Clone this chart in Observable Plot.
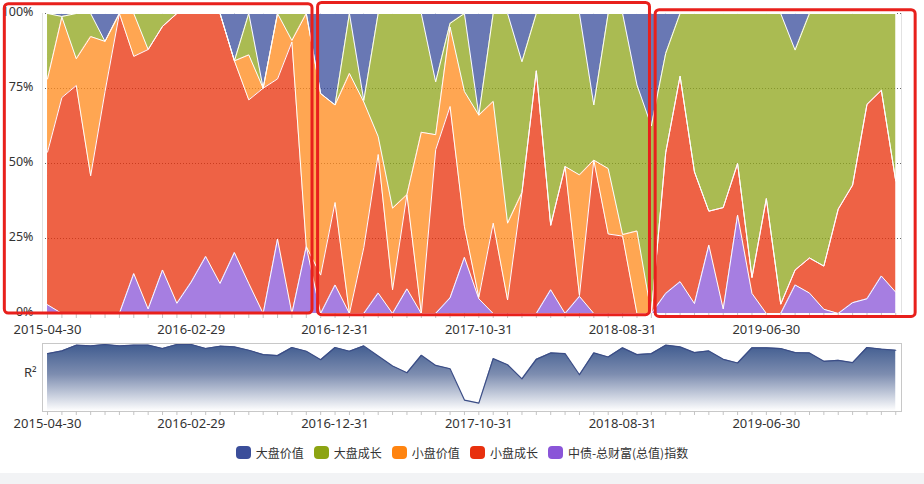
<!DOCTYPE html>
<html>
<head>
<meta charset="utf-8">
<script src="https://cdn.jsdelivr.net/npm/d3@7"></script>
<script src="https://cdn.jsdelivr.net/npm/@observablehq/plot@0.6"></script>
<style>
  body { margin: 0; background: #fff; }
  #wrap { position: relative; width: 924px; height: 484px; overflow: hidden; background: #fff; }
  #main { position: absolute; left: 0; top: 0; }
  #nav { position: absolute; left: 0; top: 338px; }
  #r2label { position: absolute; left: 24px; top: 363px; font: 13px "Noto Sans", sans-serif; color: #333; }
  #legend { position: absolute; left: 0; top: 444px; width: 924px; display: flex; justify-content: center; gap: 10px;
            font: 12px "Noto Sans CJK SC", sans-serif; color: #333; }
  .item { display: flex; align-items: center; gap: 5px; }
  .sw { width: 15px; height: 13px; border-radius: 4px; }
  #band { position: absolute; left: 0; top: 473px; width: 924px; height: 11px; background: #f2f3f5; }
</style>
</head>
<body>
<div id="wrap">
  <div id="main"></div>
  <div id="nav"></div>
  <div id="r2label">R²</div>
  <div id="legend"></div>
  <div id="band"></div>
</div>
<script>
// ---- Data ----
const dates = [
  "2015-04-30","2015-05-31","2015-06-30","2015-07-31","2015-08-31","2015-09-30","2015-10-31","2015-11-30","2015-12-31",
  "2016-01-31","2016-02-29","2016-03-31","2016-04-30","2016-05-31","2016-06-30","2016-07-31","2016-08-31","2016-09-30",
  "2016-10-31","2016-11-30","2016-12-31","2017-01-31","2017-02-28","2017-03-31","2017-04-30","2017-05-31","2017-06-30",
  "2017-07-31","2017-08-31","2017-09-30","2017-10-31","2017-11-30","2017-12-31","2018-01-31","2018-02-28","2018-03-31",
  "2018-04-30","2018-05-31","2018-06-30","2018-07-31","2018-08-31","2018-09-30","2018-10-31","2018-11-30","2018-12-31",
  "2019-01-31","2019-02-28","2019-03-31","2019-04-30","2019-05-31","2019-06-30","2019-07-31","2019-08-31","2019-09-30",
  "2019-10-31","2019-11-30","2019-12-31","2020-01-31","2020-02-29","2020-03-31"
];

const seriesNames = ["大盘价值", "大盘成长", "小盘价值", "小盘成长", "中债-总财富(总值)指数"];
const seriesColors = ["#3a4e9c", "#8fa61c", "#ff8a1c", "#e8300a", "#8a55d8"];
const legendColors = ["#3b4e9a", "#8ca412", "#ff8410", "#e8300e", "#8a55d8"];
// bottom -> top stacking order
const stackOrder = ["中债-总财富(总值)指数", "小盘成长", "小盘价值", "大盘成长", "大盘价值"];

// weights (%) per month
const largeValue = [0,1,0,0,9.3,0,0,0,0,0, 0,0,0,15.8,0,24.9,0,0,0,26.7,
  30.5,0,29,0,0,0,0,22.8,3.3,0, 33.9,0,0,16.1,0,0,0,0,30.5,0,
  0,23.8,37.5,13.3,0,0,0,0,0,0, 0,0,12.2,0,0,0,0,0,0,0];
const largeGrowth = [21.8,0.2,15.1,7.7,0,0,0,12,4.3,0, 0,0,0,0,13.8,0,0,9,0,0,
  0,20,0.5,41,64.9,60.4,39.6,17.6,1.2,26, 0,29.3,69.9,43.6,19.1,70.6,51,53.8,18.4,51.7,
  73.7,48.7,62.5,33.1,20.9,52.8,65.9,64.7,50,88, 61.7,96.9,73.3,81.5,84.2,65.2,57.2,30.3,25.6,55.8];
const smallValue = [24.4,26.8,8.9,46.4,16.7,0,14.3,0,0,0, 0,0,0,0,15,0,21.8,0.5,77.7,60.5,
  32.5,80,48.5,6,27.2,0,60.4,5,26.5,45.1, 60.7,40.6,25.6,0,0,0,0,40.2,0,21.8,
  0.5,27.5,0,0,0,0,0,0,0,0, 0,0,0,0,0,0,0,0,0,0];
const smallGrowth = [50.9,72,76,45.9,74,100,72.4,86.5,81.2,96.6, 89.5,81,90,63.9,61.2,75.1,53.4,90.5,0,12.8,
  27.5,0,22,46.2,7.9,31.4,0,54.6,63.8,10.2, 0.5,30.1,4.5,40.3,80.9,21.5,49,0.3,51.1,26.5,
  25.8,0,0,46.9,68.5,43.9,11.3,33.8,17.2,5.3, 38.3,3.1,5,11.7,14.4,34.8,39.2,64.8,61.9,37.1];
const bond = [2.9,0,0,0,0,0,13.3,1.5,14.5,3.4, 10.5,19,10,20.3,10,0,24.8,0,22.3,0,
  9.5,0,0,6.8,0,8.2,0,0,5.2,18.7, 4.9,0,0,0,0,7.9,0,5.7,0,0,
  0,0,0,6.7,10.6,3.3,22.8,1.5,32.8,6.7, 0,0,9.5,6.8,1.4,0,3.6,4.9,12.5,7.1];

// R² of the style regression (relative height in the navigator)
const r2 = [0.851,0.891,0.975,0.965,0.985,0.965,0.975,0.975,0.926,0.985,
  0.985,0.926,0.960,0.950,0.901,0.837,0.822,0.941,0.886,0.762,
  0.941,0.886,0.965,0.817,0.668,0.569,0.827,0.678,0.629,0.168,
  0.124,0.777,0.688,0.480,0.767,0.861,0.851,0.540,0.861,0.802,
  0.936,0.837,0.851,0.975,0.950,0.866,0.891,0.767,0.713,0.936,
  0.936,0.926,0.866,0.861,0.738,0.752,0.718,0.941,0.916,0.901];

const yTicks = [0, 0.25, 0.5, 0.75, 1];
const labelEvery = 10;
// highlighted periods (month index ranges)
const periods = [[0, 18], [19, 41], [42, 59]];

// ---- Build table ----
const seriesValues = [largeValue, largeGrowth, smallValue, smallGrowth, bond];
const table = [];
seriesNames.forEach((name, s) => {
  seriesValues[s].forEach((v, i) => table.push({i, date: dates[i], series: name, value: v}));
});
const idx = dates.map((d, i) => i);
const xDomain = [-0.35, 59.4];
const xFmt = i => (i % labelEvery === 0 ? dates[i] : "");
const font = "'Noto Sans','Noto Sans CJK SC',sans-serif";

const boxInsets = [
  {insetLeft: -42.7, insetRight: -6.2, insetTop: -9.3, insetBottom: 0},
  {insetLeft: -2.6, insetRight: -13, insetTop: -10.6, insetBottom: -1.7},
  {insetLeft: 4.3, insetRight: -19.9, insetTop: -3.3, insetBottom: -3.4}
];

const main = Plot.plot({
  width: 924, height: 338,
  marginLeft: 42, marginRight: 23, marginTop: 13, marginBottom: 25,
  x: {domain: xDomain, axis: null},
  y: {domain: [0, 1], axis: null},
  color: {domain: seriesNames, range: seriesColors},
  style: {fontSize: "13px", fontFamily: font, color: "#333", background: "transparent", overflow: "visible"},
  marks: [
    Plot.gridY(yTicks.slice(1), {stroke: "#666", strokeOpacity: 1, strokeDasharray: "1,2"}),
    Plot.ruleX(xDomain, {stroke: "#e2e2e2"}),
    Plot.areaY(table, {x: "i", y: "value", z: "series", fill: "series", order: stackOrder, offset: "normalize", fillOpacity: 0.76}),
    Plot.lineY(table, Plot.stackY2({x: "i", y: "value", z: "series", order: stackOrder, offset: "normalize", stroke: "white", strokeWidth: 1})),
    Plot.axisX(idx, {tickFormat: xFmt, tickSize: 5, tickPadding: 6, stroke: "#c4c4c4", fill: "#333", label: null}),
    Plot.axisY(yTicks, {tickFormat: d3.format(".0%"), tickSize: 0, tickPadding: 9, dy: -2, fill: "#333", fontSize: 12.5, label: null}),
    ...periods.map((p, k) => Plot.rect([p], {
      x1: d => d[0], x2: d => d[1], y1: 0, y2: 1,
      fill: "none", stroke: "#e8201c", strokeWidth: 3, rx: 4, ...boxInsets[k]
    }))
  ]
});
document.getElementById("main").appendChild(main);

const nav = Plot.plot({
  width: 924, height: 92,
  marginLeft: 42, marginRight: 23, marginTop: 5, marginBottom: 19,
  x: {domain: xDomain, axis: null},
  y: {domain: [0, 1], axis: null},
  style: {fontSize: "13px", fontFamily: font, color: "#333", background: "transparent", overflow: "visible"},
  marks: [
    Plot.areaY(r2, {x: (d, i) => i, y: d => d, fill: "url(#r2grad)"}),
    Plot.lineY(r2, {x: (d, i) => i, y: d => d, stroke: "#3b4d86", strokeWidth: 1.2}),
    Plot.frame({stroke: "#c8c8c8"}),
    Plot.axisX(idx, {tickFormat: xFmt, tickSize: 4, tickPadding: 3, stroke: "#c4c4c4", fill: "#333", label: null})
  ]
});
d3.select(nav).insert("defs", ":first-child").html(
  '<linearGradient id="r2grad" x1="0" y1="0" x2="0" y2="1">' +
  '<stop offset="0" stop-color="#3f5b8f"/><stop offset="0.45" stop-color="#7d8db0"/>' +
  '<stop offset="1" stop-color="#ffffff"/></linearGradient>');
document.getElementById("nav").appendChild(nav);

const legend = document.getElementById("legend");
seriesNames.forEach((name, k) => {
  const it = document.createElement("div");
  it.className = "item";
  it.innerHTML = `<span class="sw" style="background:${legendColors[k]}"></span><span>${name}</span>`;
  legend.appendChild(it);
});
</script>
</body>
</html>
